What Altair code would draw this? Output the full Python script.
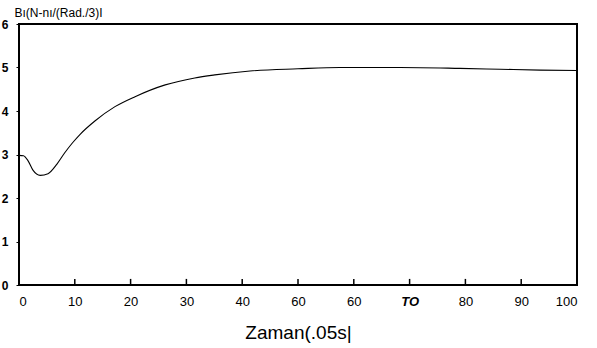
import altair as alt
import pandas as pd

# series
t_vals = [0, 0.8, 1.6, 2.5, 3.8, 5.2, 6.8, 8.2, 9.6, 11.0, 13.6, 17.2, 20.8, 26.2, 31.5, 35.1, 41.4, 50.0, 57.5, 68.3, 79.0, 86.2, 93.4, 100]
b_vals = [2.98, 2.97, 2.86, 2.64, 2.52, 2.56, 2.78, 3.04, 3.27, 3.47, 3.77, 4.10, 4.33, 4.60, 4.76, 4.83, 4.92, 4.97, 5.00, 5.00, 4.98, 4.96, 4.94, 4.93]

x_ticks = [0, 10, 20, 30, 40, 50, 60, 70, 80, 90, 100]
x_labels = ["0", "10", "20", "30", "40", "60", "60", "TO", "80", "90", "100"]
y_ticks = [0, 1, 2, 3, 4, 5, 6]

df = pd.DataFrame({"t": t_vals, "b": b_vals})
ticks_df = pd.DataFrame({"t": x_ticks, "y0": [0] * len(x_ticks), "y1": [0.14] * len(x_ticks)})

label_map = "{" + ",".join(f"'{v}':'{l}'" for v, l in zip(x_ticks, x_labels)) + "}"

W, H = 558, 261
FONT = "Liberation Sans"

xscale = alt.Scale(domain=[0, 100], nice=False, zero=False)
yscale = alt.Scale(domain=[0, 6], nice=False)

line = alt.Chart(df).mark_line(color="black", strokeWidth=1.1, interpolate="monotone").encode(
    x=alt.X("t:Q", scale=xscale,
            axis=alt.Axis(values=x_ticks, labelExpr=f"{label_map}[''+datum.value]",
                          title="Zaman(.05s|", titleFontSize=19, titleFont=FONT,
                          titleFontWeight="normal", titleColor="black", titlePadding=15,
                          labelFont=FONT, labelFontSize=13, labelColor="black", labelPadding=10,
                          ticks=False, domain=False, grid=False,
                          labelFontWeight={"condition": {"test": "datum.value == 70", "value": "bold"}, "value": "normal"},
                          labelFontStyle={"condition": {"test": "datum.value == 70", "value": "italic"}, "value": "normal"})),
    y=alt.Y("b:Q", scale=yscale,
            axis=alt.Axis(values=y_ticks, title="Bı(N-nı/(Rad./3)I", titleAngle=0,
                          titleAlign="left", titleBaseline="alphabetic", titleX=-5, titleY=-8,
                          titleFont=FONT, titleFontSize=12, titleFontWeight="normal", titleColor="black",
                          labelFont=FONT, labelFontSize=12, labelFontWeight="bold", labelColor="black",
                          labelPadding=8, tickSize=3, tickColor="black", domain=False, grid=False)),
)

tick_marks = alt.Chart(ticks_df).mark_rule(color="black", strokeWidth=1.5).encode(
    x=alt.X("t:Q", scale=xscale),
    y=alt.Y("y0:Q", scale=yscale),
    y2="y1:Q",
)

chart = alt.layer(tick_marks, line).properties(
    width=W, height=H,
    padding={"left": 19, "top": 24, "right": 20, "bottom": 63},
    autosize=alt.AutoSizeParams(type="none"),
).configure(background="white").configure_view(stroke="black", strokeWidth=2)

chart.save("out.html", embed_options={"renderer": "svg", "actions": False})
